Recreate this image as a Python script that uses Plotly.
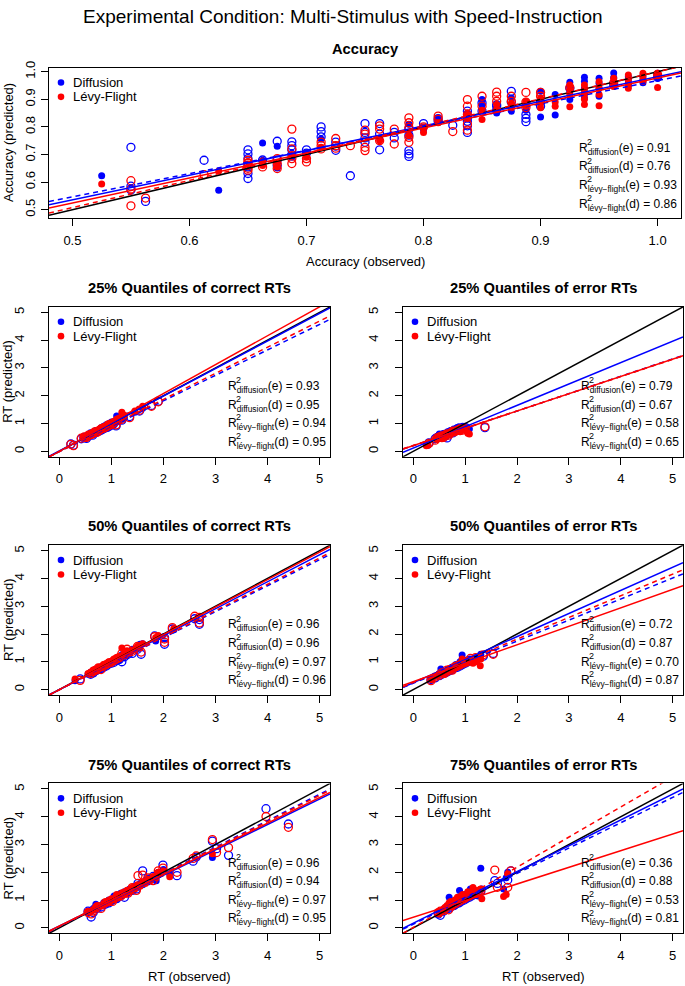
import plotly.graph_objects as go

W, H = 685, 986
BLUE = "#0000FF"
RED = "#FF0000"
FONT = "Liberation Sans, Arial, Helvetica, sans-serif"

# ---------------- Accuracy ----------------
acc_obs_e = [0.525, 0.625, 0.6625, 0.6625, 0.675, 0.675, 0.6875, 0.7, 0.7125, 0.7625, 0.7875, 0.8, 0.8,
             0.8125, 0.8375, 0.8375, 0.85, 0.85, 0.8625, 0.8625, 0.875, 0.875, 0.875, 0.8875, 0.8875,
             0.9, 0.9, 0.9, 0.9125, 0.9125, 0.925, 0.925, 0.925, 0.925, 0.9375, 0.9375, 0.9375, 0.9375,
             0.9375, 0.95, 0.95, 0.95, 0.95, 0.9625, 0.9625, 0.9625, 0.975, 0.975, 0.975, 0.975,
             0.9875, 0.9875, 0.9875, 1.0, 1.0, 1.0]
acc_diff_e = [0.623, 0.57, 0.742, 0.679, 0.73, 0.651, 0.69, 0.705, 0.756, 0.76, 0.81, 0.80, 0.79,
              0.83, 0.85, 0.835, 0.899, 0.881, 0.85, 0.87, 0.905, 0.875, 0.857, 0.86, 0.875,
              0.929, 0.836, 0.90, 0.917, 0.843, 0.962, 0.946, 0.899, 0.93, 0.98, 0.965, 0.94, 0.922,
              0.905, 0.976, 0.958, 0.94, 0.911, 0.995, 0.979, 0.96, 0.982, 0.958, 0.97, 0.95,
              0.985, 0.97, 0.96, 0.994, 0.976, 0.985]
acc_levy_e = [0.593, 0.64, 0.676, 0.66, 0.67, 0.655, 0.70, 0.69, 0.726, 0.75, 0.77, 0.798, 0.78,
              0.815, 0.845, 0.83, 0.86, 0.827, 0.881, 0.864, 0.886, 0.869, 0.88, 0.893, 0.875,
              0.905, 0.887, 0.869, 0.875, 0.89, 0.952, 0.935, 0.917, 0.873, 0.952, 0.935, 0.917, 0.881,
              0.90, 0.964, 0.917, 0.877, 0.94, 0.976, 0.958, 0.946, 0.988, 0.97, 0.952, 0.94,
              0.994, 0.979, 0.965, 0.994, 0.943, 0.985]
acc_obs_d = [0.55, 0.55, 0.55, 0.5625, 0.6125, 0.65, 0.65, 0.65, 0.65, 0.65, 0.65, 0.6625, 0.675, 0.675,
             0.675, 0.6875, 0.6875, 0.6875, 0.6875, 0.7, 0.7, 0.7125, 0.7125, 0.7125, 0.725, 0.725,
             0.725, 0.7375, 0.75, 0.75, 0.75, 0.75, 0.7625, 0.7625, 0.7625, 0.775, 0.775, 0.7875,
             0.7875, 0.7875, 0.7875, 0.7875, 0.8, 0.8125, 0.8125, 0.825, 0.8375, 0.8375, 0.8375,
             0.8375, 0.8375, 0.85, 0.85, 0.8625, 0.8625, 0.8625, 0.875, 0.875, 0.8875, 0.8875, 0.8875,
             0.9, 0.9, 0.925, 0.9625, 1.0]
acc_diff_d = [0.726, 0.571, 0.585, 0.53, 0.679, 0.717, 0.702, 0.685, 0.631, 0.613, 0.655, 0.68, 0.748, 0.66,
              0.68, 0.746, 0.732, 0.717, 0.70, 0.717, 0.705, 0.80, 0.783, 0.764, 0.745, 0.73,
              0.715, 0.623, 0.812, 0.78, 0.744, 0.76, 0.812, 0.774, 0.717, 0.78, 0.76, 0.714,
              0.702, 0.693, 0.792, 0.77, 0.812, 0.83, 0.82, 0.806, 0.857, 0.833, 0.804,
              0.78, 0.82, 0.887, 0.857, 0.875, 0.86, 0.88, 0.929, 0.89, 0.845, 0.831, 0.819,
              0.89, 0.875, 0.94, 0.952, 0.98]
acc_levy_d = [0.605, 0.514, 0.575, 0.542, 0.627, 0.679, 0.661, 0.643, 0.668, 0.65, 0.67, 0.655, 0.685, 0.667,
              0.649, 0.792, 0.72, 0.685, 0.667, 0.685, 0.673, 0.732, 0.745, 0.72, 0.758, 0.732,
              0.723, 0.732, 0.788, 0.774, 0.726, 0.714, 0.804, 0.792, 0.75, 0.792, 0.738, 0.833,
              0.815, 0.798, 0.762, 0.744, 0.80, 0.839, 0.827, 0.783, 0.899, 0.875, 0.845,
              0.81, 0.788, 0.911, 0.875, 0.926, 0.911, 0.893, 0.911, 0.893, 0.925, 0.89, 0.87,
              0.925, 0.911, 0.943, 0.96, 0.99]
# (intercept, slope): diffusion e, diffusion d, levy e, levy d
acc_fits = [(0.089, 0.893), (0.125, 0.843), (0.071, 0.906), (0.015, 0.985)]
acc_r2 = [0.91, 0.76, 0.93, 0.86]

# ---------------- 25% quantiles, correct ----------------
q25c_obs_e = [0.45, 0.5, 0.55, 0.58, 0.62, 0.65, 0.68, 0.7, 0.72, 0.75, 0.78, 0.8, 0.83, 0.85, 0.88, 0.9,
              0.93, 0.95, 0.98, 1.0, 1.05, 1.1, 1.15, 1.2, 1.25, 1.45, 1.6]
q25c_diff_e = [0.48, 0.46, 0.58, 0.55, 0.6, 0.68, 0.64, 0.75, 0.7, 0.72, 0.8, 0.85, 0.78, 0.9, 0.84, 0.95,
               0.9, 1.0, 0.92, 1.05, 0.98, 1.27, 1.1, 1.15, 1.2, 1.4, 1.55]
q25c_levy_e = [0.5, 0.48, 0.55, 0.6, 0.58, 0.65, 0.7, 0.72, 0.76, 0.74, 0.78, 0.82, 0.86, 0.88, 0.9, 0.92,
               0.98, 0.95, 1.02, 1.0, 1.08, 1.15, 1.2, 1.4, 1.3, 1.45, 1.62]
q25c_obs_d = [0.22, 0.27, 0.42, 0.48, 0.52, 0.56, 0.6, 0.64, 0.68, 0.72, 0.76, 0.8, 0.84, 0.88, 0.92, 0.96,
              1.0, 1.04, 1.09, 1.12, 1.2, 1.35, 1.54, 1.77, 1.9]
q25c_diff_d = [0.26, 0.22, 0.45, 0.5, 0.46, 0.55, 0.62, 0.58, 0.66, 0.7, 0.72, 0.76, 0.8, 0.84, 0.86, 0.9,
               0.95, 0.98, 0.91, 1.1, 1.12, 1.25, 1.45, 1.65, 1.8]
q25c_levy_d = [0.25, 0.2, 0.47, 0.52, 0.5, 0.58, 0.6, 0.63, 0.7, 0.68, 0.74, 0.8, 0.82, 0.86, 0.9, 0.94,
               0.97, 1.02, 0.95, 1.12, 1.15, 1.21, 1.48, 1.62, 1.78]
q25c_fits = [(0.01, 0.99), (-0.017, 0.917), (0.0, 1.04), (-0.012, 0.94)]
q25c_r2 = [0.93, 0.95, 0.94, 0.95]

# ---------------- 25% quantiles, error ----------------
q25e_obs_e = [0.25, 0.28, 0.45, 0.48, 0.5, 0.52, 0.55, 0.58, 0.6, 0.63, 0.66, 0.7, 0.72, 0.75, 0.78, 0.8,
              0.84, 0.88, 0.9, 0.95, 1.0, 1.05, 1.08]
q25e_diff_e = [0.25, 0.22, 0.5, 0.55, 0.62, 0.48, 0.6, 0.52, 0.65, 0.55, 0.7, 0.62, 0.75, 0.68, 0.8, 0.72,
               0.85, 0.88, 0.78, 0.9, 0.85, 0.84, 0.8]
q25e_levy_e = [0.2, 0.22, 0.42, 0.48, 0.5, 0.55, 0.45, 0.58, 0.52, 0.6, 0.58, 0.66, 0.62, 0.7, 0.68, 0.75,
               0.72, 0.8, 0.7, 0.78, 0.75, 0.65, 0.62]
q25e_obs_d = [0.3, 0.42, 0.46, 0.5, 0.55, 0.58, 0.62, 0.65, 0.68, 0.72, 0.76, 0.8, 0.85, 0.9, 0.95, 1.0, 1.38]
q25e_diff_d = [0.3, 0.45, 0.5, 0.55, 0.5, 0.6, 0.55, 0.48, 0.65, 0.7, 0.66, 0.75, 0.8, 0.78, 0.82, 0.86, 0.85]
q25e_levy_d = [0.28, 0.4, 0.48, 0.52, 0.55, 0.5, 0.6, 0.62, 0.58, 0.66, 0.72, 0.7, 0.76, 0.8, 0.76, 0.8, 0.88]
q25e_fits = [(0.114, 0.769), (0.2, 0.625), (0.204, 0.622), (0.21, 0.62)]
q25e_r2 = [0.79, 0.67, 0.58, 0.65]

# ---------------- 50% quantiles, correct ----------------
q50c_obs_e = [0.3, 0.55, 0.6, 0.65, 0.7, 0.75, 0.8, 0.85, 0.9, 0.95, 1.0, 1.05, 1.1, 1.15, 1.2, 1.25, 1.3,
              1.35, 1.4, 1.5, 1.55, 1.6, 1.85, 1.9, 2.2]
q50c_diff_e = [0.32, 0.55, 0.62, 0.6, 0.72, 0.7, 0.82, 0.8, 0.9, 0.92, 1.0, 1.02, 1.1, 1.05, 1.25, 1.2, 1.35,
               1.28, 1.45, 1.48, 1.63, 1.65, 1.75, 1.9, 2.15]
q50c_levy_e = [0.38, 0.58, 0.6, 0.7, 0.68, 0.8, 0.78, 0.9, 0.88, 1.0, 0.98, 1.1, 1.15, 1.2, 1.5, 1.3, 1.4,
               1.32, 1.4, 1.55, 1.5, 1.65, 1.87, 1.95, 2.2]
q50c_obs_d = [0.4, 0.6, 0.65, 0.7, 0.75, 0.8, 0.85, 0.9, 0.95, 1.0, 1.05, 1.1, 1.15, 1.2, 1.25, 1.3, 1.4,
              1.5, 1.57, 1.83, 2.02, 2.02, 2.17, 2.6, 2.69, 2.69]
q50c_diff_d = [0.38, 0.55, 0.6, 0.68, 0.72, 0.75, 0.8, 0.85, 0.92, 0.95, 0.98, 1.05, 1.08, 1.0, 1.18, 1.25,
               1.3, 1.45, 1.27, 1.93, 1.87, 1.63, 2.18, 2.55, 2.52, 2.35]
q50c_levy_d = [0.33, 0.58, 0.65, 0.7, 0.78, 0.72, 0.85, 0.9, 0.95, 0.98, 1.05, 1.1, 1.15, 1.3, 1.25, 1.45,
               1.38, 1.55, 1.35, 1.9, 1.82, 1.7, 2.23, 2.64, 2.6, 2.4]
q50c_fits = [(-0.006, 0.972), (0.0, 0.935), (0.0, 0.99), (-0.01, 0.95)]
q50c_r2 = [0.96, 0.96, 0.97, 0.96]

# ---------------- 50% quantiles, error ----------------
q50e_obs_e = [0.35, 0.45, 0.5, 0.53, 0.58, 0.62, 0.66, 0.7, 0.74, 0.78, 0.82, 0.86, 0.9, 0.94, 0.98, 1.02,
              1.08, 1.15, 1.22, 1.29, 1.3]
q50e_diff_e = [0.38, 0.5, 0.55, 0.74, 0.62, 0.58, 0.72, 0.68, 0.8, 0.75, 0.9, 0.85, 1.0, 1.24, 0.95, 1.05,
               1.1, 1.0, 1.15, 1.2, 1.27]
q50e_levy_e = [0.35, 0.48, 0.58, 0.6, 0.55, 0.65, 0.62, 0.75, 0.7, 0.82, 0.78, 0.9, 0.85, 1.1, 0.92, 0.98,
               1.05, 0.95, 1.0, 0.86, 1.1]
q50e_obs_d = [0.34, 0.42, 0.5, 0.55, 0.6, 0.65, 0.7, 0.75, 0.8, 0.85, 0.9, 0.95, 1.0, 1.05, 1.1, 1.2, 1.35, 1.54]
q50e_diff_d = [0.36, 0.42, 0.5, 0.55, 0.6, 0.63, 0.68, 0.72, 0.78, 0.8, 0.85, 0.9, 0.95, 1.0, 1.05, 1.1, 1.2, 1.3]
q50e_levy_d = [0.32, 0.45, 0.52, 0.6, 0.58, 0.7, 0.72, 0.7, 0.82, 0.85, 0.9, 0.95, 0.98, 1.0, 1.12, 1.15, 1.25, 1.27]
q50e_fits = [(0.246, 0.831), (0.231, 0.757), (0.283, 0.665), (0.256, 0.78)]
q50e_r2 = [0.72, 0.87, 0.70, 0.87]

# ---------------- 75% quantiles, correct ----------------
q75c_obs_e = [0.55, 0.6, 0.65, 0.7, 0.75, 0.8, 0.85, 0.9, 0.95, 1.0, 1.05, 1.1, 1.15, 1.2, 1.25, 1.3, 1.35,
              1.4, 1.45, 1.5, 1.55, 1.6, 1.65, 1.7, 1.75, 1.8, 1.86, 1.9, 1.95, 2.0, 2.12, 2.94]
q75c_diff_e = [0.55, 0.62, 0.7, 0.85, 0.75, 0.8, 0.9, 0.85, 1.0, 0.95, 1.15, 1.05, 1.2, 1.15, 1.3, 1.25, 1.4,
               1.35, 1.5, 1.45, 1.6, 1.55, 1.7, 1.65, 1.8, 1.75, 1.7, 1.9, 2.0, 2.1, 1.95, 2.53]
q75c_levy_e = [0.6, 0.58, 0.65, 0.75, 0.8, 0.78, 0.85, 0.95, 0.9, 1.05, 1.0, 1.2, 1.1, 1.25, 1.2, 1.35, 1.3,
               1.45, 1.4, 1.55, 1.5, 1.65, 1.6, 1.75, 1.7, 1.85, 1.8, 2.0, 1.95, 2.05, 1.84, 2.67]
q75c_obs_d = [0.55, 0.61, 0.65, 0.72, 0.8, 0.88, 0.95, 1.02, 1.1, 1.18, 1.25, 1.32, 1.4, 1.48, 1.51, 1.6,
              1.7, 1.8, 1.9, 1.99, 2.26, 2.57, 2.63, 2.94, 3.02, 3.25, 3.97, 4.4]
q75c_diff_d = [0.6, 0.39, 0.55, 0.7, 0.75, 0.85, 0.9, 1.0, 1.05, 1.2, 1.1, 1.3, 1.35, 1.4, 1.6, 2.05, 1.75,
               1.85, 1.95, 2.26, 1.88, 2.4, 2.55, 3.12, 2.85, 2.61, 4.29, 3.74]
q75c_levy_d = [0.55, 0.5, 0.6, 0.75, 0.7, 0.9, 0.95, 0.95, 1.1, 1.15, 1.25, 1.25, 1.45, 1.35, 1.88, 1.9, 1.8,
               1.7, 2.05, 2.15, 2.0, 2.5, 2.59, 3.18, 2.71, 2.89, 4.01, 3.62]
q75c_fits = [(0.063, 0.915), (0.05, 0.952), (0.065, 0.926), (0.05, 0.944)]
q75c_r2 = [0.96, 0.94, 0.97, 0.95]

# ---------------- 75% quantiles, error ----------------
q75e_obs_e = [0.5, 0.55, 0.6, 0.65, 0.69, 0.72, 0.75, 0.8, 0.85, 0.89, 0.92, 0.95, 1.0, 1.05, 1.1, 1.15,
              1.2, 1.25, 1.3, 1.32, 1.74, 1.79, 1.82]
q75e_diff_e = [0.55, 0.6, 0.65, 0.75, 1.1, 0.8, 0.85, 0.95, 0.9, 1.34, 1.05, 1.0, 1.2, 1.1, 1.4, 1.25,
               1.3, 1.15, 2.15, 1.4, 1.4, 1.8, 2.0]
q75e_levy_e = [0.5, 0.62, 0.7, 0.8, 0.9, 0.95, 0.75, 1.0, 1.1, 1.05, 1.15, 1.2, 1.1, 1.3, 1.25, 1.45,
               1.2, 1.35, 1.4, 1.05, 1.13, 1.2, 1.95]
q75e_obs_d = [0.48, 0.52, 0.58, 0.62, 0.68, 0.72, 0.78, 0.82, 0.88, 0.92, 0.98, 1.02, 1.08, 1.12, 1.18,
              1.25, 1.3, 1.57, 1.62, 1.82, 1.88]
q75e_diff_d = [0.5, 0.45, 0.6, 0.65, 0.7, 0.75, 0.8, 0.85, 0.9, 0.95, 1.0, 1.05, 1.1, 1.15, 1.2, 1.25,
               1.3, 1.7, 1.6, 1.72, 2.05]
q75e_levy_d = [0.55, 0.6, 0.62, 0.7, 0.65, 0.8, 0.85, 0.88, 0.95, 1.0, 1.05, 1.1, 1.15, 1.2, 1.25, 1.3,
               1.35, 2.08, 1.46, 1.46, 2.05]
q75e_fits = [(0.166, 0.93), (0.133, 0.913), (0.38, 0.6), (0.017, 1.084)]
q75e_r2 = [0.36, 0.88, 0.53, 0.81]

acc_range_x = [0.48, 1.02]
acc_range_y = [0.468, 1.015]
acc_ticks = [0.5, 0.6, 0.7, 0.8, 0.9, 1.0]
rt_range = [-0.2, 5.2]
rt_ticks = [0, 1, 2, 3, 4, 5]

r2_labels = [("diffusion", "e"), ("diffusion", "d"), ("lévy−flight", "e"), ("lévy−flight", "d")]

# pixel boxes (left, right, top, bottom)
LEFT_COL = (49, 330)
RIGHT_COL = (403, 683)
ROWS = [(302, 453), (542, 693), (782, 933)]

panels = [
    dict(title="Accuracy", box=(49, 681, 61, 213), xr=acc_range_x, yr=acc_range_y, ticks=acc_ticks,
         fmt=".1f", ystand=1, data=(acc_obs_e, acc_diff_e, acc_levy_e, acc_obs_d, acc_diff_d, acc_levy_d),
         fits=acc_fits, r2=acc_r2),
    dict(title="25% Quantiles of correct RTs", box=LEFT_COL + ROWS[0],
         data=(q25c_obs_e, q25c_diff_e, q25c_levy_e, q25c_obs_d, q25c_diff_d, q25c_levy_d),
         fits=q25c_fits, r2=q25c_r2),
    dict(title="25% Quantiles of error RTs", box=RIGHT_COL + ROWS[0],
         data=(q25e_obs_e, q25e_diff_e, q25e_levy_e, q25e_obs_d, q25e_diff_d, q25e_levy_d),
         fits=q25e_fits, r2=q25e_r2),
    dict(title="50% Quantiles of correct RTs", box=LEFT_COL + ROWS[1],
         data=(q50c_obs_e, q50c_diff_e, q50c_levy_e, q50c_obs_d, q50c_diff_d, q50c_levy_d),
         fits=q50c_fits, r2=q50c_r2),
    dict(title="50% Quantiles of error RTs", box=RIGHT_COL + ROWS[1],
         data=(q50e_obs_e, q50e_diff_e, q50e_levy_e, q50e_obs_d, q50e_diff_d, q50e_levy_d),
         fits=q50e_fits, r2=q50e_r2),
    dict(title="75% Quantiles of correct RTs", box=LEFT_COL + ROWS[2],
         data=(q75c_obs_e, q75c_diff_e, q75c_levy_e, q75c_obs_d, q75c_diff_d, q75c_levy_d),
         fits=q75c_fits, r2=q75c_r2),
    dict(title="75% Quantiles of error RTs", box=RIGHT_COL + ROWS[2],
         data=(q75e_obs_e, q75e_diff_e, q75e_levy_e, q75e_obs_d, q75e_diff_d, q75e_levy_d),
         fits=q75e_fits, r2=q75e_r2),
]


def fx(p):
    return p / W


def fy(p):
    return 1 - p / H


fig = go.Figure()
annotations = []
shapes = []
layout = {}

axis_common = dict(showline=True, linecolor="black", linewidth=1, mirror=True, ticks="outside",
                   ticklen=7, tickwidth=1, tickcolor="black", showgrid=False, zeroline=False,
                   tickfont=dict(family=FONT, size=13, color="black"))

for k, p in enumerate(panels, start=1):
    xr = p.get("xr", rt_range)
    yr = p.get("yr", rt_range)
    ticks = p.get("ticks", rt_ticks)
    fmt = p.get("fmt", "d")
    left, right, top, bottom = p["box"]
    xname = "x" if k == 1 else f"x{k}"
    yname = "y" if k == 1 else f"y{k}"
    xkey = "xaxis" if k == 1 else f"xaxis{k}"
    ykey = "yaxis" if k == 1 else f"yaxis{k}"
    layout[xkey] = dict(axis_common, domain=[fx(left), fx(right)], range=xr, anchor=yname,
                        tickvals=ticks, tickformat=fmt, ticklabelstandoff=3)
    layout[ykey] = dict(axis_common, domain=[fy(bottom), fy(top)], range=yr, anchor=xname,
                        tickvals=ticks, tickformat=fmt, tickangle=-90,
                        ticklabelstandoff=p.get("ystand", 12))

    obs_e, diff_e, levy_e, obs_d, diff_d, levy_d = p["data"]
    for col, pe, pd in [(BLUE, diff_e, diff_d), (RED, levy_e, levy_d)]:
        fig.add_trace(go.Scatter(x=obs_e, y=pe, mode="markers", xaxis=xname, yaxis=yname,
                                 marker=dict(symbol="circle", size=7, color=col), showlegend=False))
        fig.add_trace(go.Scatter(x=obs_d, y=pd, mode="markers", xaxis=xname, yaxis=yname,
                                 marker=dict(symbol="circle-open", size=8, color=col,
                                             line=dict(width=1.3, color=col)), showlegend=False))

    # identity line, then fitted regression lines across the full axis range
    fig.add_trace(go.Scatter(x=xr, y=xr, mode="lines", xaxis=xname, yaxis=yname,
                             line=dict(color="black", width=1.5), showlegend=False))
    styles = [(BLUE, "solid"), (BLUE, "5px,4px"), (RED, "solid"), (RED, "5px,4px")]
    for (a, b), (col, dash) in zip(p["fits"], styles):
        fig.add_trace(go.Scatter(x=xr, y=[a + b * v for v in xr], mode="lines", xaxis=xname, yaxis=yname,
                                 line=dict(color=col, width=1.5, dash=dash), showlegend=False))

    # panel title
    annotations.append(dict(text=f"<b>{p['title']}</b>", x=fx((left + right) / 2), y=fy(top - 19),
                            xref="paper", yref="paper", showarrow=False, xanchor="center",
                            yanchor="middle", font=dict(family=FONT, size=14.7, color="black")))

    # legend
    for i, (name, col) in enumerate([("Diffusion", BLUE), ("Lévy-Flight", RED)]):
        cy = top + 15 + 14.5 * i
        shapes.append(dict(type="circle", xref="paper", yref="paper", xsizemode="pixel",
                           ysizemode="pixel", xanchor=fx(left + 12), yanchor=fy(cy),
                           x0=-3.3, x1=3.3, y0=-3.3, y1=3.3, fillcolor=col, line=dict(width=0)))
        annotations.append(dict(text=name, x=fx(left + 22), y=fy(cy), xref="paper", yref="paper",
                                showarrow=False, xanchor="left", yanchor="middle",
                                font=dict(family=FONT, size=13, color="black")))

    # R^2 block
    for i, ((model, kind), val) in enumerate(zip(r2_labels, p["r2"])):
        cy = bottom - 14 - 18.7 * (3 - i)
        annotations.append(dict(text=f"R<sub>{model}</sub>({kind}) = {val:.2f}", x=fx(right - 104),
                                y=fy(cy), xref="paper", yref="paper", showarrow=False,
                                xanchor="left", yanchor="middle",
                                font=dict(family=FONT, size=12, color="black")))
        annotations.append(dict(text="2", x=fx(right - 104 + 8.2), y=fy(cy - 7), xref="paper",
                                yref="paper", showarrow=False, xanchor="left", yanchor="middle",
                                font=dict(family=FONT, size=9, color="black")))

# main title and axis titles
annotations.append(dict(text="Experimental Condition: Multi-Stimulus with Speed-Instruction",
                        x=0.5, y=fy(10), xref="paper", yref="paper", showarrow=False,
                        xanchor="center", yanchor="middle",
                        font=dict(family=FONT, size=19, color="black")))
annotations.append(dict(text="Accuracy (observed)", x=fx(365), y=fy(256), xref="paper", yref="paper",
                        showarrow=False, xanchor="center", yanchor="middle",
                        font=dict(family=FONT, size=13, color="black")))
annotations.append(dict(text="Accuracy (predicted)", x=fx(8), y=fy(137), xref="paper", yref="paper",
                        showarrow=False, textangle=-90, xanchor="center", yanchor="middle",
                        font=dict(family=FONT, size=13, color="black")))
for (top, bottom) in ROWS:
    annotations.append(dict(text="RT (predicted)", x=fx(8), y=fy((top + bottom) / 2), xref="paper",
                            yref="paper", showarrow=False, textangle=-90, xanchor="center",
                            yanchor="middle", font=dict(family=FONT, size=13, color="black")))
for (left, right) in [LEFT_COL, RIGHT_COL]:
    annotations.append(dict(text="RT (observed)", x=fx((left + right) / 2), y=fy(976), xref="paper",
                            yref="paper", showarrow=False, xanchor="center", yanchor="middle",
                            font=dict(family=FONT, size=13, color="black")))

fig.update_layout(
    width=W, height=H,
    margin=dict(l=0, r=0, t=0, b=0),
    plot_bgcolor="white", paper_bgcolor="white",
    font=dict(family=FONT, size=13, color="black"),
    showlegend=False,
    annotations=annotations,
    shapes=shapes,
    **layout,
)

# the page body has a default 8px margin; remove it so the figure sits at the window origin
fig.write_html("out.html", config={"displayModeBar": False},
               post_script="document.body.style.margin='0';")
